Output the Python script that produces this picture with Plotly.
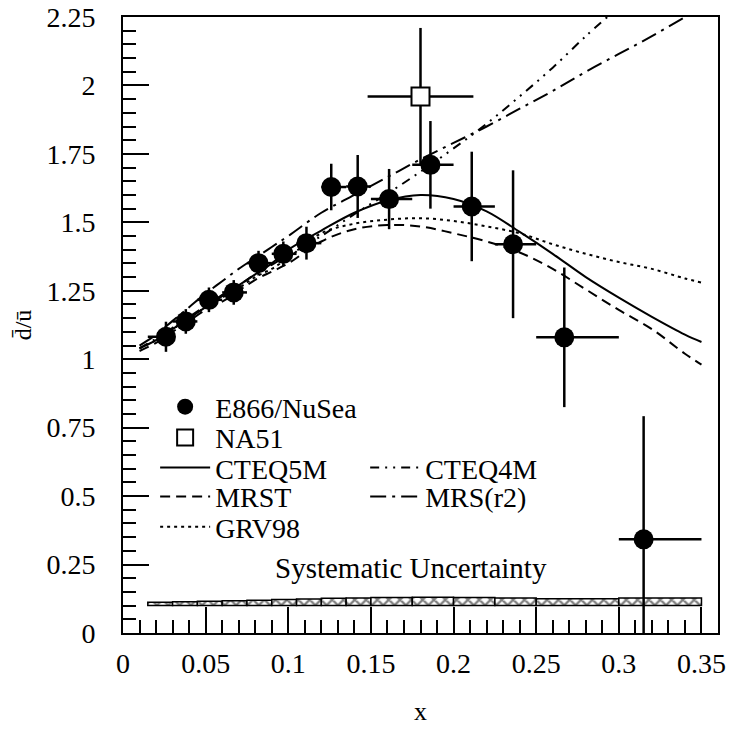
import plotly.graph_objects as go

# ── data ─────────────────────────────────────────────────────────────────────

# E866/NuSea d-bar/u-bar points
e866_x = [0.026, 0.038, 0.052, 0.067, 0.082, 0.097, 0.111, 0.126, 0.142,
          0.161, 0.186, 0.211, 0.236, 0.267, 0.315]
e866_y = [1.082, 1.138, 1.217, 1.244, 1.351, 1.385, 1.424, 1.629, 1.631,
          1.585, 1.710, 1.558, 1.420, 1.080, 0.342]
e866_err = [0.055, 0.045, 0.045, 0.045, 0.045, 0.045, 0.060, 0.085, 0.115,
            0.110, 0.160, 0.200, 0.270, 0.255, 0.450]
bin_lo = [0.015, 0.030, 0.045, 0.060, 0.075, 0.090, 0.105, 0.120, 0.135,
          0.150, 0.175, 0.200, 0.225, 0.250, 0.300]
bin_hi = [0.030, 0.045, 0.060, 0.075, 0.090, 0.105, 0.120, 0.135, 0.150,
          0.175, 0.200, 0.225, 0.250, 0.300, 0.350]

# systematic uncertainty band (drawn on a 0.1 baseline)
sys_base = 0.1
sys_err = [0.012, 0.014, 0.016, 0.018, 0.020, 0.022, 0.024, 0.027, 0.028,
           0.030, 0.031, 0.030, 0.028, 0.025, 0.028]

# NA51
na51_x = [0.18]
na51_y = [1.96]
na51_err_y = [0.25]
na51_err_x = [0.032]

# parametrisations
cx = [0.01, 0.02, 0.03, 0.04, 0.05, 0.06, 0.07, 0.08, 0.09, 0.10, 0.12,
      0.14, 0.16, 0.18, 0.20, 0.22, 0.24, 0.26, 0.28, 0.30, 0.32, 0.34, 0.35]
cteq5m = [1.04, 1.07, 1.11, 1.15, 1.19, 1.23, 1.27, 1.31, 1.35, 1.40, 1.47,
          1.535, 1.58, 1.60, 1.585, 1.54, 1.465, 1.385, 1.30, 1.225, 1.155,
          1.09, 1.063]
mrst = [1.03, 1.06, 1.10, 1.14, 1.18, 1.21, 1.25, 1.29, 1.32, 1.35, 1.43,
        1.475, 1.49, 1.485, 1.46, 1.43, 1.39, 1.33, 1.255, 1.18, 1.11, 1.02,
        0.98]
grv98 = [1.04, 1.07, 1.11, 1.15, 1.19, 1.225, 1.26, 1.30, 1.33, 1.37, 1.46,
         1.495, 1.51, 1.515, 1.505, 1.485, 1.46, 1.42, 1.385, 1.355, 1.33,
         1.295, 1.28]
c4x = [0.01, 0.02, 0.03, 0.04, 0.05, 0.06, 0.07, 0.08, 0.09, 0.10, 0.12,
       0.14, 0.16, 0.18, 0.20, 0.22, 0.24, 0.26, 0.28, 0.295]
cteq4m = [1.04, 1.075, 1.115, 1.155, 1.195, 1.235, 1.27, 1.31, 1.345, 1.38,
          1.45, 1.53, 1.605, 1.685, 1.77, 1.86, 1.96, 2.065, 2.18, 2.26]
r2x = [0.01, 0.02, 0.03, 0.04, 0.05, 0.06, 0.07, 0.08, 0.09, 0.10, 0.12,
       0.14, 0.16, 0.18, 0.20, 0.22, 0.24, 0.26, 0.28, 0.30, 0.32, 0.34]
mrsr2 = [1.05, 1.09, 1.14, 1.19, 1.24, 1.285, 1.33, 1.37, 1.41, 1.45, 1.535,
         1.60, 1.665, 1.73, 1.79, 1.85, 1.915, 1.98, 2.05, 2.115, 2.18, 2.25]

# ── figure ───────────────────────────────────────────────────────────────────

FONT = "Liberation Serif"
INK = "black"

fig = go.Figure()

fig.add_trace(go.Bar(
    x=[(a + b) / 2 for a, b in zip(bin_lo, bin_hi)],
    y=sys_err,
    base=sys_base,
    width=[b - a for a, b in zip(bin_lo, bin_hi)],
    marker=dict(color="white", line=dict(color=INK, width=1.5),
                pattern=dict(shape="x", size=8, solidity=0.5,
                             fgcolor=INK, bgcolor="white")),
    showlegend=False, hoverinfo="skip",
))

fig.add_trace(go.Scatter(
    x=e866_x, y=e866_y, mode="markers", name="E866/NuSea",
    marker=dict(symbol="circle", size=20, color=INK),
    error_y=dict(type="data", array=e866_err, color=INK, thickness=2.5, width=0),
    error_x=dict(type="data",
                 array=[h - x for h, x in zip(bin_hi, e866_x)],
                 arrayminus=[x - l for l, x in zip(bin_lo, e866_x)],
                 color=INK, thickness=2.5, width=0),
    legend="legend",
))

fig.add_trace(go.Scatter(
    x=na51_x, y=na51_y, mode="markers", name="NA51",
    marker=dict(symbol="square", size=18, color="white",
                line=dict(color=INK, width=2)),
    error_y=dict(type="data", array=na51_err_y, color=INK, thickness=2.5, width=0),
    error_x=dict(type="data", array=na51_err_x, color=INK, thickness=2.5, width=0),
    legend="legend2",
))

# (x, y, name, dash, legend slot)
curves = [
    (cx, cteq5m, "CTEQ5M", "solid", "legend3"),
    (cx, mrst, "MRST", "10px,6px", "legend4"),
    (cx, grv98, "GRV98", "3px,4px", "legend5"),
    (c4x, cteq4m, "CTEQ4M", "9px,6px,2px,6px,2px,6px", "legend6"),
    (r2x, mrsr2, "MRS(r2)", "16px,6px,3px,6px", "legend7"),
]
for xs, ys, name, dash, leg in curves:
    fig.add_trace(go.Scatter(
        x=xs, y=ys, mode="lines", name=name, line_shape="spline",
        line=dict(color=INK, width=2, dash=dash), legend=leg,
    ))

fig.add_annotation(
    x=0.174, y=0.238, xref="x", yref="y", text="Systematic Uncertainty",
    showarrow=False, font=dict(family=FONT, size=29, color=INK),
)

axis_common = dict(
    showline=True, linewidth=2, linecolor=INK, mirror=True,
    showgrid=False, zeroline=False, automargin=False,
    ticks="inside", tickwidth=1.5, tickcolor=INK, ticklen=26,
    tickfont=dict(family=FONT, size=28, color=INK),
    ticklabeloverflow="allow",
)

fig.update_xaxes(
    range=[0, 0.36], tick0=0, dtick=0.05, ticklabelstandoff=4,
    minor=dict(dtick=0.01, ticks="inside", ticklen=13, tickwidth=1.5, tickcolor=INK),
    title=dict(text="x", font=dict(family=FONT, size=26, color=INK), standoff=24),
    **axis_common,
)
fig.update_yaxes(
    range=[0, 2.25], tick0=0, dtick=0.25, ticklabelstandoff=20,
    minor=dict(dtick=0.05, ticks="inside", ticklen=13, tickwidth=1.5, tickcolor=INK),
    title=dict(text="d\u0304/u\u0304", font=dict(family=FONT, size=24, color=INK),
               standoff=8),
    **axis_common,
)

legend_common = dict(
    bgcolor="rgba(0,0,0,0)", borderwidth=0, tracegroupgap=0,
    font=dict(family=FONT, size=28, color=INK),
    xanchor="left", yanchor="middle", itemwidth=50,
)
col1, col2 = 0.054, 0.407
rows = [0.367, 0.317, 0.268, 0.221, 0.172]

fig.update_layout(
    width=730, height=733,
    margin=dict(l=123, r=12, t=17, b=100),
    paper_bgcolor="white", plot_bgcolor="white",
    showlegend=True,
    legend=dict(x=col1, y=rows[0], **legend_common),
    legend2=dict(x=col1, y=rows[1], **legend_common),
    legend3=dict(x=col1, y=rows[2], **legend_common),
    legend4=dict(x=col1, y=rows[3], **legend_common),
    legend5=dict(x=col1, y=rows[4], **legend_common),
    legend6=dict(x=col2, y=rows[2], **legend_common),
    legend7=dict(x=col2, y=rows[3], **legend_common),
)

# drop the default 8px page margin so the figure fills the window
fig.write_html("out.html", config={"displayModeBar": False},
               post_script="document.body.style.margin = '0';")
